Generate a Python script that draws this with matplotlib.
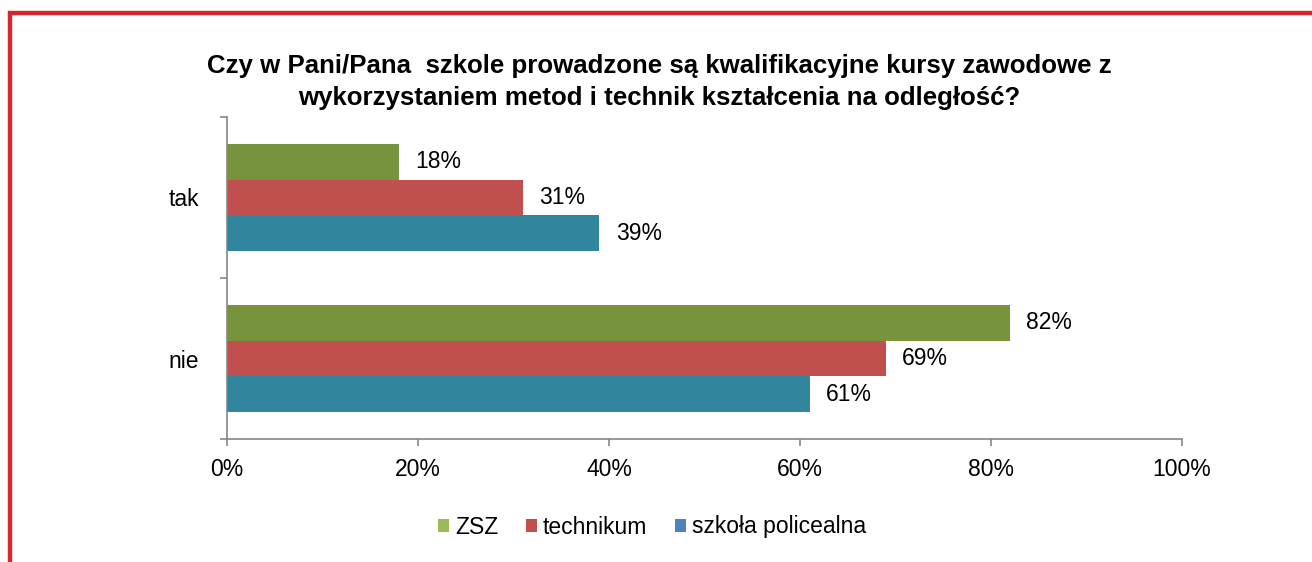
import matplotlib
matplotlib.use("Agg")
import matplotlib.pyplot as plt
from matplotlib.lines import Line2D
from matplotlib.patches import Patch
import numpy as np

plt.rcParams['font.family'] = ['Liberation Sans', 'DejaVu Sans']

categories = ["nie", "tak"]
series_names = ["ZSZ", "technikum", "szkoła policealna"]
zsz = [82, 18]
technikum = [69, 31]
policealna = [61, 39]
x_ticks = [0, 20, 40, 60, 80, 100]
x_tick_labels = ["0%", "20%", "40%", "60%", "80%", "100%"]
title = ("Czy w Pani/Pana  szkole prowadzone są kwalifikacyjne kursy zawodowe z\n"
         "wykorzystaniem metod i technik kształcenia na odległość?")

bar_colors = ["#77933C", "#C0504D", "#31859C"]
legend_colors = ["#9BBB59", "#C0504D", "#4F81BD"]

W, H = 1312, 562
fig = plt.figure(figsize=(W / 100, H / 100), dpi=100)
ax = fig.add_axes([227 / W, 1 - 439 / H, (1182 - 227) / W, (439 - 117) / H])

y = np.arange(len(categories))
h = 0.222
offsets = [h, 0, -h]
for vals, off, col in zip([zsz, technikum, policealna], offsets, bar_colors):
    ax.barh(y + off, vals, height=h, color=col, linewidth=0)
    for yi, v in zip(y, vals):
        ax.text(v + 1.7, yi + off, f"{v}%", va="center", ha="left",
                fontsize=16.5, color="#000000")

ax.set_xlim(0, 100)
ax.set_ylim(-0.5, 1.5)
ax.set_xticks(x_ticks)
ax.set_xticklabels(x_tick_labels, fontsize=16.5)
ax.set_yticks(y)
ax.set_yticklabels(categories, fontsize=16.5)
ax.set_yticks([-0.5, 0.5, 1.5], minor=True)
ax.tick_params(axis="y", which="major", length=0, pad=20)
ax.tick_params(axis="y", which="minor", length=5, width=1.2, color="#868686")
ax.tick_params(axis="x", which="major", length=5, width=1.2, color="#868686", pad=9)
for s in ["top", "right"]:
    ax.spines[s].set_visible(False)
for s in ["left", "bottom"]:
    ax.spines[s].set_color("#868686")
    ax.spines[s].set_linewidth(1.2)

fig.text(659 / W, 1 - 82 / H, title, ha="center", va="center",
         fontsize=18.6, fontweight="bold", linespacing=1.42)

handles = [Patch(facecolor=c, edgecolor="none") for c in legend_colors]
fig.legend(handles, series_names, loc="center", bbox_to_anchor=(652 / W, 1 - 527 / H),
           ncol=3, frameon=False, fontsize=16.5, handlelength=0.5, handleheight=0.5,
           handletextpad=0.25, columnspacing=1.2)

# Red frame along top and left edges
border = "#D6262F"
fig.add_artist(Line2D([7.5 / W, 1.0], [1 - 13 / H, 1 - 13 / H], color=border,
                      linewidth=3.2, transform=fig.transFigure, solid_capstyle="butt"))
fig.add_artist(Line2D([9.5 / W, 9.5 / W], [1 - 11 / H, 0.0], color=border,
                      linewidth=3.2, transform=fig.transFigure, solid_capstyle="butt"))

fig.savefig("out.png", dpi=100)
